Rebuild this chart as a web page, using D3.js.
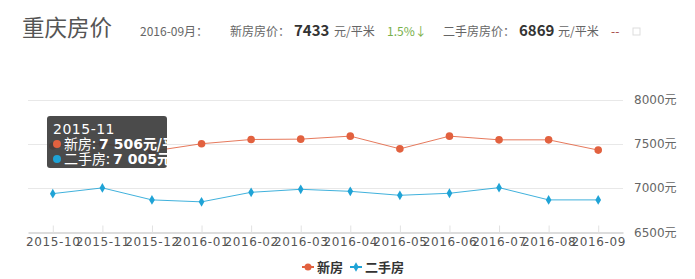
<!DOCTYPE html>
<html>
<head>
<meta charset="utf-8">
<script src="https://cdn.jsdelivr.net/npm/d3@7"></script>
<style>
  body { margin: 0; background: #fff; }
  svg { display: block; }
</style>
</head>
<body>
<div id="chart"></div>
<script>
// months on the x axis
var months = ["2015-10", "2015-11", "2015-12", "2016-01", "2016-02", "2016-03",
              "2016-04", "2016-05", "2016-06", "2016-07", "2016-08", "2016-09"];
// 新房 / 二手房 price per square metre
var newPrice  = [7478, 7506, 7420, 7505, 7553, 7557, 7591, 7447, 7591, 7549, 7549, 7433];
var usedPrice = [6940, 7005, 6869, 6847, 6955, 6989, 6966, 6921, 6944, 7008, 6869, 6869];
var yTicks = [6500, 7000, 7500, 8000];
var seriesNames = ["新房", "二手房"];
var colors = ["#e2613f", "#1fa3d6"];
var tipIndex = 1;

var width = 695, height = 279;
var svg = d3.select("#chart").append("svg")
    .attr("width", width)
    .attr("height", height);

var cn = "'Noto Sans CJK SC', 'DejaVu Sans', sans-serif";
var num = "'DejaVu Sans', 'Noto Sans CJK SC', sans-serif";

// header line
var head = svg.append("g").style("font-family", cn);
head.append("text").attr("x", 22).attr("y", 36)
    .style("font-size", "22.5px").style("fill", "#555").text("重庆房价");
head.append("text").attr("x", 140).attr("y", 36)
    .style("font-size", "12px").style("fill", "#666").text("2016-09月：");
head.append("text").attr("x", 230).attr("y", 36)
    .style("font-size", "12px").style("fill", "#666").text("新房房价：");
head.append("text").attr("x", 294).attr("y", 36)
    .style("font-size", "15px").style("font-weight", "bold").style("fill", "#333")
    .text(newPrice[newPrice.length - 1]);
head.append("text").attr("x", 334).attr("y", 36)
    .style("font-size", "12px").style("fill", "#666").text("元/平米");
var change = (newPrice[newPrice.length - 1] - newPrice[newPrice.length - 2]) / newPrice[newPrice.length - 2];
head.append("text").attr("x", 387).attr("y", 36)
    .style("font-size", "12px").style("fill", "#78b04a")
    .text(d3.format(".1%")(Math.abs(change)) + (change < 0 ? "↓" : "↑"));
head.append("text").attr("x", 443).attr("y", 36)
    .style("font-size", "12px").style("fill", "#666").text("二手房房价：");
head.append("text").attr("x", 519).attr("y", 36)
    .style("font-size", "15px").style("font-weight", "bold").style("fill", "#333")
    .text(usedPrice[usedPrice.length - 1]);
head.append("text").attr("x", 558).attr("y", 36)
    .style("font-size", "12px").style("fill", "#666").text("元/平米");
head.append("text").attr("x", 611).attr("y", 36)
    .style("font-size", "12px").style("fill", "#a0403a").text("--");
head.append("rect").attr("x", 633).attr("y", 28).attr("width", 7).attr("height", 7)
    .style("fill", "none").style("stroke", "#ddd");

// scales
var x = d3.scalePoint().domain(months).range([28, 623]).padding(0.5);
var y = d3.scaleLinear().domain([6500, 8000]).range([232.5, 100]);

// grid lines
svg.append("g").selectAll("line")
    .data(yTicks.slice(1))
    .enter().append("line")
    .attr("x1", 28).attr("x2", 623)
    .attr("y1", function(d) { return Math.round(y(d)) + 0.5; })
    .attr("y2", function(d) { return Math.round(y(d)) + 0.5; })
    .style("stroke", "#e8e8e8");

// right axis labels
svg.append("g").selectAll("text")
    .data(yTicks)
    .enter().append("text")
    .attr("x", 634)
    .attr("y", function(d) { return y(d) + 4; })
    .style("font-family", num).style("font-size", "12px").style("fill", "#666")
    .text(function(d) { return d + "元"; });

// bottom axis
var xAxis = d3.axisBottom(x).tickSizeInner(-7).tickSizeOuter(0).tickPadding(5);
var gx = svg.append("g")
    .attr("transform", "translate(0," + 232.5 + ")")
    .call(xAxis);
gx.select(".domain").style("stroke", "#ddd").style("stroke-width", 2);
gx.selectAll(".tick line").style("stroke", "#e2e2e2");
gx.selectAll(".tick text")
    .style("font-family", num).style("font-size", "12px").style("fill", "#555")
    .style("letter-spacing", "0.6px");

// lines and markers
var series = [newPrice, usedPrice];
var line = d3.line()
    .x(function(d, i) { return x(months[i]); })
    .y(function(d) { return y(d); });

series.forEach(function(vals, s) {
    svg.append("path")
        .datum(vals)
        .attr("d", line)
        .style("fill", "none")
        .style("stroke", colors[s])
        .style("stroke-width", 1)
        .style("opacity", 0.85);
});

svg.append("g").selectAll("circle")
    .data(newPrice)
    .enter().append("circle")
    .attr("cx", function(d, i) { return x(months[i]); })
    .attr("cy", function(d) { return y(d); })
    .attr("r", 3.8)
    .style("fill", colors[0]);

svg.append("g").selectAll("path")
    .data(usedPrice)
    .enter().append("path")
    .attr("d", d3.symbol().type(d3.symbolDiamond).size(28))
    .attr("transform", function(d, i) { return "translate(" + x(months[i]) + "," + y(d) + ")"; })
    .style("fill", colors[1]);

// legend
var legend = svg.append("g").style("font-family", cn);
var legendX = [302, 350];
seriesNames.forEach(function(name, i) {
    var g = legend.append("g").attr("transform", "translate(" + legendX[i] + ",267)");
    g.append("line").attr("x1", 0).attr("x2", 12)
        .style("stroke", colors[i]).style("stroke-width", 2);
    if (i == 0) {
        g.append("circle").attr("cx", 6).attr("r", 3.5).style("fill", colors[i]);
    } else {
        g.append("path").attr("d", d3.symbol().type(d3.symbolDiamond).size(26))
            .attr("transform", "translate(6,0)").style("fill", colors[i]);
    }
    g.append("text").attr("x", 15).attr("y", 5)
        .style("font-size", "13px").style("font-weight", "bold").style("fill", "#333")
        .text(name);
});

// tooltip for 2015-11
var tip = svg.append("g").attr("transform", "translate(47,116)");
tip.append("clipPath").attr("id", "tipclip")
    .append("rect").attr("width", 120).attr("height", 52).attr("rx", 3);
tip.append("rect").attr("width", 120).attr("height", 52).attr("rx", 3)
    .style("fill", "#3c3c3c").style("opacity", 0.92);
var tg = tip.append("g").attr("clip-path", "url(#tipclip)")
    .style("font-family", cn).style("font-size", "14px").style("fill", "#fff");
tg.append("text").attr("x", 6).attr("y", 18)
    .style("font-family", num).style("letter-spacing", "0.5px").text(months[tipIndex]);
var fmt = function(v) { return d3.format(",")(v).replace(",", " "); };
[newPrice, usedPrice].forEach(function(vals, i) {
    var yy = 28 + i * 15;
    tg.append("circle").attr("cx", 10).attr("cy", yy).attr("r", 4).style("fill", colors[i]);
    var t = tg.append("text").attr("x", 17).attr("y", yy + 5);
    t.append("tspan").text(seriesNames[i] + ": ");
    t.append("tspan").style("font-family", num).style("font-weight", "bold")
        .text(fmt(vals[tipIndex]));
    t.append("tspan").style("font-weight", "bold").text("元/平米");
});
</script>
</body>
</html>
